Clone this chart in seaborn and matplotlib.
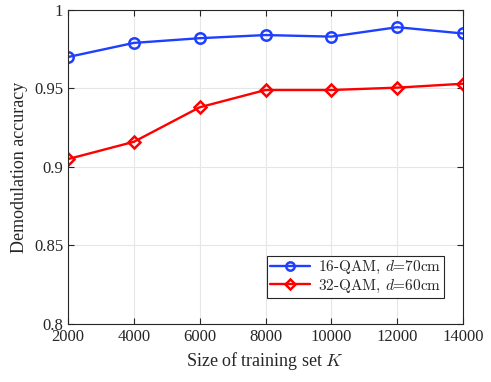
import matplotlib
matplotlib.use("Agg")
import matplotlib.pyplot as plt
import seaborn as sns
import pandas as pd

sizes = [2000, 4000, 6000, 8000, 10000, 12000, 14000]
acc_16qam = [0.970, 0.979, 0.982, 0.984, 0.983, 0.989, 0.985]
acc_32qam = [0.905, 0.916, 0.938, 0.949, 0.949, 0.9505, 0.953]
labels = ["16-QAM, $d$=70cm", "32-QAM, $d$=60cm"]

sns.set_style("ticks")
plt.rcParams['font.family'] = ['Liberation Serif', 'DejaVu Serif']
plt.rcParams['mathtext.fontset'] = 'cm'

df = pd.DataFrame({
    "K": sizes * 2,
    "acc": acc_16qam + acc_32qam,
    "series": [labels[0]] * len(sizes) + [labels[1]] * len(sizes),
})

fig = plt.figure(figsize=(4.91, 3.82), dpi=100)
ax = fig.add_axes([0.1385, 0.152, 0.8045, 0.822])

colors = ["#1f3fff", "#ff0000"]
sns.lineplot(data=df, x="K", y="acc", hue="series", style="series",
             palette=colors, markers=["o", "D"], dashes=False,
             linewidth=1.7, ax=ax)
for line, col, ms in zip(ax.lines, colors, [7.5, 6.5]):
    line.set_markerfacecolor("none")
    line.set_markeredgecolor(col)
    line.set_markeredgewidth(1.8)
    line.set_markersize(ms)

ax.set_xlim(2000, 14000)
ax.set_ylim(0.8, 1.0)
ax.set_xticks(sizes)
ax.set_yticks([0.8, 0.85, 0.9, 0.95, 1.0])
ax.set_yticklabels(["0.8", "0.85", "0.9", "0.95", "1"])
ax.grid(True, color="#e6e6e6", linewidth=0.8)
ax.tick_params(direction="in", top=True, right=True, labelsize=12, colors="#262626", length=4)
for s in ax.spines.values():
    s.set_color("#262626")
    s.set_linewidth(0.8)
ax.set_xlabel("Size of training set $K$", fontsize=13, color="#262626")
ax.set_ylabel("Demodulation accuracy", fontsize=13, color="#262626")

leg = ax.legend(loc="lower right", bbox_to_anchor=(0.952, 0.083), borderaxespad=0,
                prop={"family": ["cmr10", "Liberation Serif"], "size": 11},
                fancybox=False, edgecolor="#262626", framealpha=1,
                handlelength=2.6, borderpad=0.2, labelspacing=0.1, handletextpad=0.5)
leg.get_frame().set_linewidth(0.8)
for h, col, ms in zip(leg.legend_handles, colors, [6, 5.5]):
    h.set_markerfacecolor("none")
    h.set_markeredgecolor(col)
    h.set_markeredgewidth(1.8)
    h.set_markersize(ms)
    h.set_linewidth(1.7)

fig.savefig("out.png", dpi=100)
